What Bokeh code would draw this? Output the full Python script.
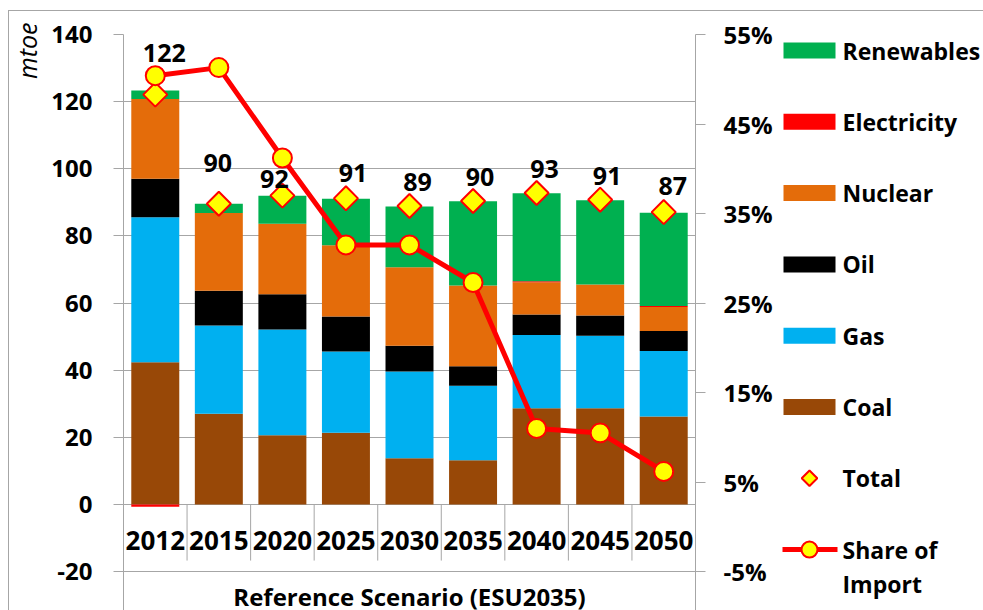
import math
from bokeh.plotting import figure
from bokeh.models import (Range1d, FactorRange, LinearAxis, FixedTicker, Title,
                          ColumnDataSource, PrintfTickFormatter)
from bokeh.layouts import row
from bokeh.embed import file_html
from bokeh.resources import INLINE
from bokeh.core.properties import value

# ---------------- data ----------------
years = ["2012", "2015", "2020", "2025", "2030", "2035", "2040", "2045", "2050"]
coal = [42.4, 27.0, 20.6, 21.4, 13.8, 13.2, 28.7, 28.7, 26.2]
gas = [43.2, 26.3, 31.5, 24.2, 25.8, 22.2, 21.8, 21.6, 19.5]
oil = [11.4, 10.4, 10.5, 10.4, 7.7, 5.8, 6.1, 6.0, 6.0]
nuclear = [23.8, 23.1, 21.0, 21.2, 23.4, 24.0, 9.6, 9.2, 7.1]
electricity = [-0.7, 0.0, 0.0, 0.0, 0.0, 0.0, 0.3, 0.0, 0.3]
renewables = [2.5, 2.8, 8.4, 13.9, 18.1, 25.1, 26.2, 25.1, 27.8]
total = [122.1, 89.6, 92.0, 91.2, 88.9, 90.4, 92.8, 90.8, 87.1]
share_of_import = [50.4, 51.3, 41.2, 31.5, 31.5, 27.3, 11.0, 10.5, 6.2]  # %

left_ticks = [-20, 0, 20, 40, 60, 80, 100, 120, 140]
right_ticks = [-5, 5, 15, 25, 35, 45, 55]
unit_label = "mtoe"
group_label = "Reference Scenario (ESU2035)"
legend_names = ["Renewables", "Electricity", "Nuclear", "Oil", "Gas", "Coal", "Total"]
share_name_lines = ["Share of", "Import"]

# ---------------- styles ----------------
FONT = "Open Sans"
C_REN, C_ELE, C_NUC, C_OIL, C_GAS, C_COAL = "#00B050", "#FF0000", "#E46C0A", "#000000", "#00B0F0", "#984807"
GRID = "#a6a6a6"
BAR_W = 0.755
lab_dx = [9, -1, -8, 7, 8, 7, 8, 7, 9]      # label offsets, screen px
lab_dy = [42, 41, 17, 25, 24, 24, 24, 24, 26]

FRAME_TOP, FIG_H = 34, 610
Y_MIN, Y_MAX = -31.57, 140.0
L_MIN, L_MAX = -20.0, 140.0
R_MIN, R_MAX = -5.0, 55.0
r_start = R_MIN + (Y_MIN - L_MIN) * (R_MAX - R_MIN) / (L_MAX - L_MIN)

elec_pos = [max(e, 0.0) for e in electricity]
elec_neg = [min(e, 0.0) for e in electricity]

src = ColumnDataSource(dict(
    years=years, coal=coal, gas=gas, oil=oil, nuclear=nuclear, elec_pos=elec_pos,
    elec_neg=elec_neg, renewables=renewables, total=total, share=share_of_import,
    labels=[str(int(round(t))) for t in total],
    dx=lab_dx, dy=[-d for d in lab_dy],
))

BORDER_CSS = {
    "background-image": "linear-gradient(#a6a6a6,#a6a6a6), linear-gradient(#a6a6a6,#a6a6a6)",
    "background-size": "100% 1px, 1px 100%",
    "background-position": "8px 10px, 8px 10px",
    "background-repeat": "no-repeat",
}

p = figure(x_range=FactorRange(factors=years, range_padding=0, factor_padding=0),
           y_range=Range1d(Y_MIN, Y_MAX), title=None,
           frame_width=572, frame_height=FIG_H - FRAME_TOP,
           min_border_left=123, min_border_right=80, min_border_top=FRAME_TOP,
           min_border_bottom=0,
           x_axis_location=None, y_axis_location="left",
           output_backend="svg", toolbar_location=None)
p.outline_line_color = None
p.xgrid.visible = False
p.ygrid.grid_line_color = GRID
p.ygrid.grid_line_width = 1
p.background_fill_color = "white"
p.border_fill_color = None
p.styles = BORDER_CSS

yax = p.yaxis[0]
yax.ticker = FixedTicker(ticks=left_ticks)
yax.formatter = PrintfTickFormatter(format="%d")
yax.axis_line_color = GRID
yax.major_tick_line_color = GRID
yax.major_tick_out = 10
yax.major_tick_in = 0
yax.minor_tick_line_color = None
yax.major_label_standoff = 21
yax.major_label_text_font = FONT
yax.major_label_text_font_style = "bold"
yax.major_label_text_font_size = "24px"
yax.major_label_text_color = "black"

p.add_layout(Title(text=unit_label, align="right", text_font=FONT, text_font_style="italic",
                   text_font_size="25px", text_color="black", offset=-12), "left")

p.extra_y_ranges = {"pct": Range1d(r_start, R_MAX)}
rax = LinearAxis(y_range_name="pct", ticker=FixedTicker(ticks=right_ticks),
                 formatter=PrintfTickFormatter(format="%d%%"))
rax.axis_line_color = GRID
rax.major_tick_line_color = GRID
rax.major_tick_out = 10
rax.major_tick_in = 0
rax.minor_tick_line_color = None
rax.major_label_standoff = 18
rax.major_label_text_font = FONT
rax.major_label_text_font_style = "bold"
rax.major_label_text_font_size = "24px"
rax.major_label_text_color = "black"
p.add_layout(rax, "right")

# stacked bars (positive parts)
p.vbar_stack(["coal", "gas", "oil", "nuclear", "elec_pos", "renewables"], x="years",
             width=BAR_W, source=src,
             fill_color=[C_COAL, C_GAS, C_OIL, C_NUC, C_ELE, C_REN],
             line_color=None)
# negative electricity below zero
p.vbar(x="years", top=0, bottom="elec_neg", width=BAR_W, source=src,
       fill_color=C_ELE, line_color=None)

# category separators below the zero line
bounds = list(range(1, len(years)))
p.segment(x0=bounds, y0=[0] * len(bounds), x1=bounds, y1=[-16.7] * len(bounds),
          line_color=GRID, line_width=1)

# year labels between 0 and -20
p.text(x=years, y=[-10.8] * len(years), text=years, text_align="center",
       text_baseline="middle", text_font=value(FONT), text_font_style="bold",
       text_font_size="26px", text_color="black")

# group label
p.text(x=[years[len(years) // 2]], y=[-27.5], text=[group_label], text_align="center",
       text_baseline="alphabetic", text_font=value(FONT), text_font_style="bold",
       text_font_size="24px", text_color="black")

# totals (diamonds)
p.scatter(x="years", y="total", source=src, marker="square", angle=math.pi / 4,
          size=17, fill_color="#FFFF00", line_color="#FF0000", line_width=2)

# share of import
p.line(x="years", y="share", source=src, y_range_name="pct", line_color="#FF0000",
       line_width=5)
p.scatter(x="years", y="share", source=src, y_range_name="pct", marker="circle",
          size=19, fill_color="#FFFF00", line_color="#FF0000", line_width=2)

# total labels
p.text(x="years", y="total", text="labels", source=src, x_offset="dx", y_offset="dy",
       text_align="center", text_baseline="middle", text_font=value(FONT),
       text_font_style="bold", text_font_size="25px", text_color="black")

# ---------------- legend panel ----------------
LW = 208
q = figure(width=LW, frame_height=FIG_H - FRAME_TOP, min_border_top=FRAME_TOP,
           min_border_bottom=0, min_border_left=0, min_border_right=0,
           x_range=Range1d(0, LW), y_range=Range1d(FIG_H, FRAME_TOP),
           title=None, x_axis_location=None, y_axis_location=None,
           output_backend="svg", toolbar_location=None)
q.outline_line_color = None
q.grid.grid_line_color = None
q.background_fill_color = None
q.border_fill_color = None
q.styles = {
    "background-image": "linear-gradient(#a6a6a6,#a6a6a6)",
    "background-size": "100% 1px",
    "background-position": "0px 10px",
    "background-repeat": "no-repeat",
}

ROW0, ROW_DY = 50.0, 71.3
PATCH_X, TEXT_X = 34.0, 67.0
bar_colors = [C_REN, C_ELE, C_NUC, C_OIL, C_GAS, C_COAL]
rows = [ROW0 + ROW_DY * i for i in range(len(legend_names) + 1)]
q.rect(x=[PATCH_X] * len(bar_colors), y=rows[:len(bar_colors)], width=52, height=16,
       fill_color=bar_colors, line_color=None)
q.scatter(x=[PATCH_X], y=[rows[6]], marker="square", angle=math.pi / 4, size=11,
          fill_color="#FFFF00", line_color="#FF0000", line_width=2)
q.line(x=[PATCH_X - 27, PATCH_X + 28], y=[rows[7], rows[7]], line_color="#FF0000",
       line_width=5)
q.scatter(x=[PATCH_X], y=[rows[7]], marker="circle", size=16, fill_color="#FFFF00",
          line_color="#FF0000", line_width=2)
q.text(x=[TEXT_X] * (len(legend_names) + 2),
       y=rows + [rows[7] + 34],
       text=legend_names + share_name_lines,
       text_align="left", text_baseline="middle", text_font=value(FONT),
       text_font_style="bold", text_font_size="23px", text_color="black")

layout = row(p, q)
open("out.html", "w").write(file_html(layout, INLINE))
